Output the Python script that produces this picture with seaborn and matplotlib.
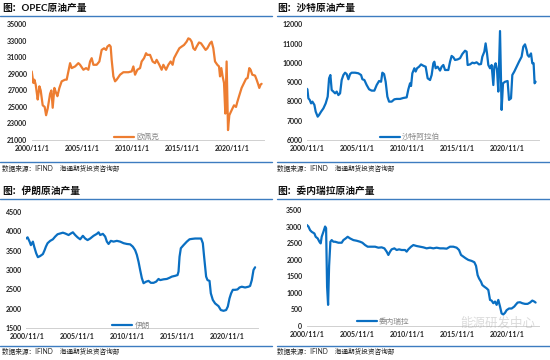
import matplotlib
matplotlib.use("Agg")
import matplotlib.pyplot as plt
import seaborn as sns
import pandas as pd
from matplotlib.lines import Line2D

# ---- data (decimal years, thousand barrels/day) ----
opec_t = [2000.76, 2000.93, 2001.03, 2001.16, 2001.26, 2001.36, 2001.53, 2001.66, 2001.86, 2002.06,
          2002.20, 2002.36, 2002.60, 2002.73, 2002.86, 2003.03, 2003.20, 2003.33, 2003.53, 2003.76,
          2004.10, 2004.26, 2004.43, 2004.60, 2004.76, 2005.10, 2005.43, 2005.60, 2005.93, 2006.20,
          2006.43, 2006.60, 2006.76, 2006.93, 2007.26, 2007.53, 2007.76, 2008.00, 2008.20, 2008.33,
          2008.53, 2008.66, 2008.76, 2008.93, 2009.10, 2009.26, 2009.60, 2009.93, 2010.43, 2010.76,
          2010.93, 2011.10, 2011.33, 2011.60, 2011.76, 2012.00, 2012.20, 2012.33, 2012.60, 2012.86,
          2013.10, 2013.26, 2013.53, 2013.76, 2013.93, 2014.20, 2014.43, 2014.66, 2014.86, 2015.00,
          2015.26, 2015.53, 2015.76, 2016.00, 2016.26, 2016.43, 2016.60, 2016.76, 2016.93, 2017.10,
          2017.26, 2017.50, 2017.70, 2017.93, 2018.16, 2018.33, 2018.60, 2018.76, 2018.93, 2019.10,
          2019.33, 2019.50, 2019.60, 2019.73, 2019.86, 2020.00, 2020.13, 2020.26, 2020.40, 2020.53,
          2020.76, 2021.00, 2021.20, 2021.33, 2021.53, 2021.76, 2022.00, 2022.20, 2022.36, 2022.53,
          2022.66, 2022.83, 2023.10, 2023.26, 2023.43, 2023.53, 2023.66, 2023.76]
opec_v = [29300, 27900, 28300, 27700, 26800, 25900, 27500, 27000, 25200, 25000,
          24000, 24800, 26600, 27000, 24900, 27300, 26700, 26300, 27300, 28100,
          28300, 28300, 29300, 30300, 29700, 29900, 30300, 30100, 29500, 29700,
          29500, 30500, 30900, 30100, 30100, 30500, 31900, 32100, 31900, 32300,
          32500, 32300, 30700, 28700, 28100, 28300, 28900, 29200, 29200, 29300,
          29900, 28900, 29500, 29700, 30500, 30900, 31500, 31300, 31300, 30500,
          30300, 30700, 30100, 29500, 30100, 29500, 30100, 30500, 30100, 30900,
          31500, 32100, 32300, 32500, 32900, 33300, 33200, 32900, 32100, 31900,
          32300, 32800, 32700, 32300, 31900, 32100, 32700, 32900, 32100, 30500,
          30100, 29900, 28700, 29700, 28700, 27900, 24200, 30500, 22200, 24000,
          24600, 25200, 25000, 25600, 26400, 27300, 27900, 28400, 28500, 29700,
          29500, 28900, 28800, 28300, 27700, 27300, 27700, 27800]

saudi_t = [2000.70, 2000.83, 2000.93, 2001.06, 2001.20, 2001.33, 2001.53, 2001.66, 2001.86, 2002.00,
           2002.20, 2002.43, 2002.66, 2002.86, 2003.00, 2003.13, 2003.26, 2003.43, 2003.60, 2003.76,
           2003.93, 2004.10, 2004.26, 2004.43, 2004.60, 2004.76, 2004.93, 2005.10, 2005.26, 2005.60,
           2005.93, 2006.20, 2006.33, 2006.53, 2006.76, 2007.00, 2007.26, 2007.53, 2007.76, 2008.00,
           2008.20, 2008.33, 2008.50, 2008.66, 2008.83, 2009.00, 2009.26, 2009.53, 2009.76, 2010.10,
           2010.43, 2010.76, 2010.93, 2011.10, 2011.20, 2011.33, 2011.53, 2011.66, 2011.80, 2012.00,
           2012.20, 2012.43, 2012.66, 2012.86, 2013.10, 2013.26, 2013.43, 2013.53, 2013.66, 2013.86,
           2014.10, 2014.26, 2014.43, 2014.60, 2014.93, 2015.10, 2015.26, 2015.43, 2015.60, 2015.86,
           2016.10, 2016.33, 2016.60, 2016.76, 2016.86, 2017.10, 2017.33, 2017.53, 2017.76, 2018.00,
           2018.20, 2018.33, 2018.53, 2018.66, 2018.80, 2018.93, 2019.10, 2019.26, 2019.43, 2019.53,
           2019.66, 2019.80, 2019.93, 2020.10, 2020.26, 2020.40, 2020.60, 2020.86, 2021.00, 2021.20,
           2021.33, 2021.53, 2021.76, 2022.00, 2022.26, 2022.43, 2022.60, 2022.76, 2022.86, 2023.00,
           2023.20, 2023.33, 2023.46, 2023.56, 2023.66]
saudi_v = [8680, 8630, 8160, 8080, 7900, 7990, 7820, 7470, 7210, 7300,
           7470, 7640, 7900, 8250, 9200, 9370, 8590, 8510, 8420, 8510,
           8330, 8420, 9110, 9370, 9490, 9420, 9150, 9420, 9490, 9490,
           9460, 9370, 9150, 9110, 8850, 8630, 8560, 8560, 8850, 9060,
           9020, 9490, 9420, 9020, 8250, 7990, 7990, 8110, 8130, 8130,
           8180, 8210, 8630, 8940, 8800, 9460, 9720, 9550, 9720, 9800,
           9920, 9850, 9800, 9200, 9110, 9370, 9980, 10060, 9720, 9800,
           9600, 9800, 9890, 9630, 9630, 10060, 10360, 10290, 10150, 10180,
           10240, 10460, 10630, 10580, 9890, 9920, 10010, 9980, 10030, 9920,
           9940, 10320, 10580, 11010, 10490, 9890, 9720, 9890, 8850, 9800,
           9980, 9630, 8510, 11650, 7560, 8940, 9020, 9060, 8080, 8160,
           9370, 9550, 9800, 10060, 10320, 10840, 10960, 10670, 10410, 10320,
           10490, 9980, 9980, 8940, 9020]

iran_t = [2000.76, 2000.90, 2001.10, 2001.23, 2001.43, 2001.56, 2001.76, 2001.93, 2002.16, 2002.43,
          2002.60, 2002.73, 2002.90, 2003.16, 2003.43, 2003.66, 2003.90, 2004.16, 2004.43, 2004.66,
          2005.00, 2005.23, 2005.43, 2005.66, 2005.90, 2006.16, 2006.43, 2006.66, 2006.90, 2007.16,
          2007.50, 2007.83, 2008.00, 2008.16, 2008.43, 2008.66, 2008.83, 2009.00, 2009.23, 2009.50,
          2009.83, 2010.16, 2010.50, 2010.83, 2011.16, 2011.43, 2011.66, 2011.83, 2012.00, 2012.16,
          2012.33, 2012.50, 2012.76, 2013.00, 2013.23, 2013.50, 2013.76, 2014.00, 2014.16, 2014.50,
          2014.83, 2015.10, 2015.33, 2015.66, 2015.90, 2016.00, 2016.10, 2016.23, 2016.50, 2016.83,
          2017.10, 2017.33, 2017.66, 2018.00, 2018.26, 2018.43, 2018.56, 2018.76, 2018.90, 2019.10,
          2019.23, 2019.43, 2019.66, 2020.00, 2020.23, 2020.50, 2020.76, 2020.93, 2021.10, 2021.26,
          2021.43, 2021.66, 2021.90, 2022.10, 2022.33, 2022.66, 2023.00, 2023.16, 2023.33, 2023.50,
          2023.66]
iran_v = [3810, 3840, 3730, 3640, 3730, 3600, 3430, 3330, 3360, 3410,
          3510, 3600, 3690, 3750, 3790, 3860, 3920, 3940, 3960, 3940,
          3900, 3940, 3970, 3900, 3840, 3790, 3880, 3810, 3770, 3810,
          3880, 3930, 3970, 3900, 3930, 3860, 3730, 3670, 3750, 3730,
          3750, 3730, 3690, 3670, 3660, 3600, 3510, 3390, 3210, 3000,
          2790, 2660, 2700, 2720, 2670, 2670, 2700, 2770, 2740, 2760,
          2770, 2800, 2830, 2850, 2870, 2960, 3340, 3560, 3640, 3730,
          3790, 3800, 3810, 3810, 3810, 3690, 3340, 2830, 2740, 2720,
          2400, 2230, 2140, 2070, 1970, 1950, 1970, 2060, 2270, 2400,
          2490, 2490, 2500, 2550, 2570, 2550, 2570, 2590, 2740, 3000,
          3070]

venez_t = [2000.76, 2000.93, 2001.10, 2001.26, 2001.53, 2001.66, 2001.86, 2002.03, 2002.16, 2002.26,
           2002.43, 2002.60, 2002.70, 2002.80, 2002.90, 2003.00, 2003.13, 2003.26, 2003.43, 2003.60,
           2003.93, 2004.26, 2004.43, 2004.66, 2004.86, 2005.10, 2005.43, 2005.76, 2006.10, 2006.33,
           2006.60, 2006.86, 2007.26, 2007.60, 2007.93, 2008.26, 2008.53, 2008.76, 2008.93, 2009.10,
           2009.26, 2009.53, 2009.76, 2010.00, 2010.26, 2010.60, 2010.76, 2010.93, 2011.20, 2011.43,
           2011.76, 2012.10, 2012.43, 2012.76, 2013.10, 2013.43, 2013.76, 2014.10, 2014.43, 2014.76,
           2015.10, 2015.43, 2015.76, 2016.00, 2016.20, 2016.43, 2016.66, 2016.93, 2017.26, 2017.53,
           2017.70, 2017.86, 2018.00, 2018.20, 2018.33, 2018.53, 2018.76, 2018.93, 2019.10, 2019.26,
           2019.43, 2019.60, 2019.76, 2019.93, 2020.10, 2020.26, 2020.43, 2020.60, 2020.76, 2021.00,
           2021.26, 2021.53, 2021.66, 2021.86, 2022.10, 2022.33, 2022.60, 2022.86, 2023.10, 2023.33,
           2023.53, 2023.66]
venez_v = [3050, 3000, 2890, 2840, 2790, 2690, 2640, 2540, 2490, 2690,
           2840, 3000, 2950, 1180, 630, 1800, 2540, 2590, 2540, 2540,
           2510, 2510, 2590, 2640, 2690, 2640, 2590, 2570, 2540, 2510,
           2440, 2390, 2390, 2390, 2360, 2370, 2340, 2240, 2140, 2240,
           2310, 2340, 2290, 2310, 2290, 2290, 2240, 2310, 2390, 2440,
           2410, 2390, 2370, 2340, 2360, 2340, 2360, 2340, 2340, 2330,
           2390, 2390, 2360, 2290, 2140, 2090, 2040, 1990, 1960, 1920,
           1810, 1530, 1430, 1330, 1230, 1180, 1130, 1080, 780, 760,
           680, 730, 630, 780, 580, 370, 340, 390, 470, 520,
           520, 580, 630, 700, 710, 680, 660, 660, 700, 760,
           730, 700]

tick_years = [2000.83, 2005.83, 2010.83, 2015.83, 2020.83]
tick_labels = ["2000/11/1", "2005/11/1", "2010/11/1", "2015/11/1", "2020/11/1"]
footer = "数据来源：IFIND    海通期货投资咨询部"

sns.set_style("white")
plt.rcParams['font.family'] = ['Lato', 'Noto Sans CJK SC', 'DejaVu Sans']

W, H = 550, 360
fig = plt.figure(figsize=(5.5, 3.6), dpi=100)
BLUE_RULE = '#3d7cc0'


def px_axes(left, top, right, bottom):
    return fig.add_axes([left / W, 1 - bottom / H, (right - left) / W, (bottom - top) / H])


def hline(x0, x1, y):
    fig.add_artist(Line2D([x0 / W, x1 / W], [1 - y / H, 1 - y / H], color=BLUE_RULE, lw=1.0))


def panel(rect, t, v, color, label, yticks, title, title_xy, rule, foot_y, leg_xy):
    ax = px_axes(*rect)
    df = pd.DataFrame({'date': t, 'val': v})
    sns.lineplot(data=df, x='date', y='val', ax=ax, color=color, lw=1.6, label=label)
    ax.set_xlim(2000.74, 2023.95)
    ax.set_ylim(yticks[0], yticks[-1])
    ax.set_yticks(yticks)
    ax.set_yticklabels([str(y) for y in yticks], fontsize=5, color='#222222', fontweight='bold')
    ax.set_xticks(tick_years)
    ax.set_xticklabels(tick_labels, fontsize=5, color='#222222', fontweight='bold')
    ax.set_xlabel('')
    ax.set_ylabel('')
    for s in ['top', 'right', 'left']:
        ax.spines[s].set_visible(False)
    ax.spines['bottom'].set_color('#d0d0d0')
    ax.spines['bottom'].set_linewidth(0.7)
    ax.tick_params(axis='x', direction='inout', length=3, width=0.6, color='#d0d0d0', pad=2)
    ax.tick_params(axis='y', length=0, pad=3)
    ax.patch.set_alpha(0)
    ax.legend(loc='center', bbox_to_anchor=(leg_xy[0] / W, 1 - leg_xy[1] / H),
              bbox_transform=fig.transFigure, frameon=False, fontsize=5.5,
              handlelength=2.6, handletextpad=0.3, labelcolor='#888888')
    fig.text(title_xy[0] / W, 1 - title_xy[1] / H, title, fontsize=7, fontweight='bold',
             va='center', ha='left', color='#111111')
    hline(rule[0], rule[1], rule[2])
    hline(rule[0], rule[1], foot_y)
    fig.text(title_xy[0] / W, 1 - (foot_y + 6) / H, footer, fontsize=4.8, va='center',
             ha='left', color='#222222')
    return ax


panel((31.5, 24.3, 263.5, 140), opec_t, opec_v, '#ED7D31', '欧佩克',
      [21000, 23000, 25000, 27000, 29000, 31000, 33000, 35000],
      '图：OPEC原油产量', (2, 8), (0, 272, 15.5), 162, (137, 136.7))
panel((306.5, 24.3, 538.5, 140), saudi_t, saudi_v, '#0A6FC2', '沙特阿拉伯',
      [6000, 7000, 8000, 9000, 10000, 11000, 12000],
      '图：沙特原油产量', (277, 8), (277, 550, 15.5), 162, (410, 136.7))
panel((26, 211.7, 258, 328.3), iran_t, iran_v, '#0A6FC2', '伊朗',
      [1500, 2000, 2500, 3000, 3500, 4000, 4500],
      '图：伊朗原油产量', (2, 191), (0, 272, 198.5), 345.5, (131, 325))
panel((306.5, 210, 538.5, 325.7), venez_t, venez_v, '#0A6FC2', '委内瑞拉',
      [0, 500, 1000, 1500, 2000, 2500, 3000, 3500],
      '图：委内瑞拉原油产量', (277, 191), (277, 550, 198.5), 345.5, (383, 321))

# faint watermark as in the source image
fig.text(498 / W, 1 - 322 / H, '能源研发中心', fontsize=9, color='#999999', alpha=0.35,
         ha='center', va='center')

fig.savefig('out.png', dpi=100)
